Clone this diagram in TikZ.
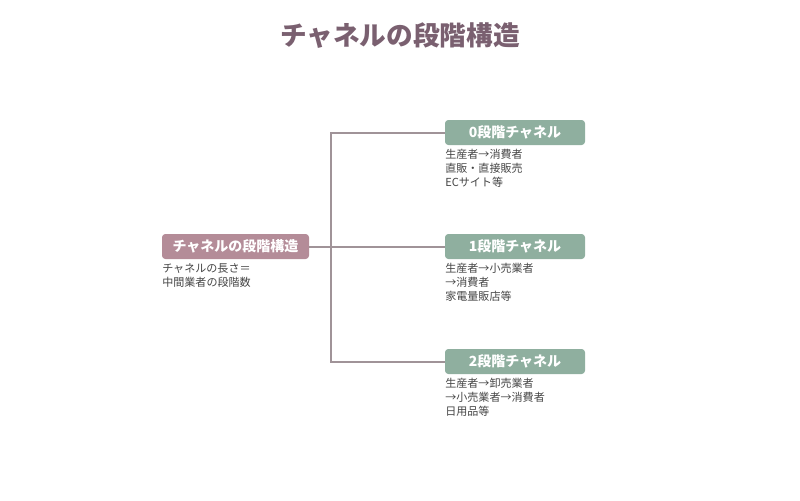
\documentclass[tikz,border=0pt]{standalone}
\usepackage{fontspec}
\setmainfont{Noto Sans CJK JP}
\usetikzlibrary{positioning}
\definecolor{rootfill}{HTML}{B48C98}
\definecolor{chfill}{HTML}{8FAF9F}
\definecolor{linec}{HTML}{A09398}
\definecolor{titlec}{HTML}{7A6070}
\definecolor{textc}{HTML}{444444}
\tikzset{
  box/.style={text=white, font=\fontsize{10.5pt}{12pt}\selectfont\bfseries, rounded corners=2.5pt, inner sep=0pt},
  rootbox/.style={box, fill=rootfill, minimum width=110.25pt, minimum height=18.75pt},
  chbox/.style={box, fill=chfill, minimum width=105pt, minimum height=18.75pt},
  desc/.style={text=textc, font=\fontsize{8.3pt}{10.5pt}\selectfont, align=left, inner sep=0pt, anchor=north west},
  link/.style={linec, line width=1.5pt}
}
\begin{document}
\begin{tikzpicture}[x=0.75pt, y=-0.75pt]
  \useasboundingbox (0,0) rectangle (800,500);

  \node[text=titlec, font=\fontsize{20pt}{24pt}\selectfont\bfseries] (title) at (400,36) {チャネルの段階構造};

  \node[rootbox] (root) at (235.5,246.5) {チャネルの段階構造};
  \node[desc] (rootdesc) at (162,263) {チャネルの長さ＝\\中間業者の段階数};

  \node[chbox] (c0) at (515,132.5) {0段階チャネル};
  \node[chbox] (c1) at (515,246.5) {1段階チャネル};
  \node[chbox] (c2) at (515,361.5) {2段階チャネル};

  \node[desc] (d0) at (445,149) {生産者→消費者\\直販・直接販売\\ECサイト等};
  \node[desc] (d1) at (445,263) {生産者→小売業者\\→消費者\\家電量販店等};
  \node[desc] (d2) at (445,378) {生産者→卸売業者\\→小売業者→消費者\\日用品等};

  \coordinate (trunk) at (331,246.5);
  \draw[link] (root.east) -- (trunk);
  \foreach \c in {c0,c1,c2}
    \draw[link] (trunk) |- (\c.west);
\end{tikzpicture}
\end{document}
